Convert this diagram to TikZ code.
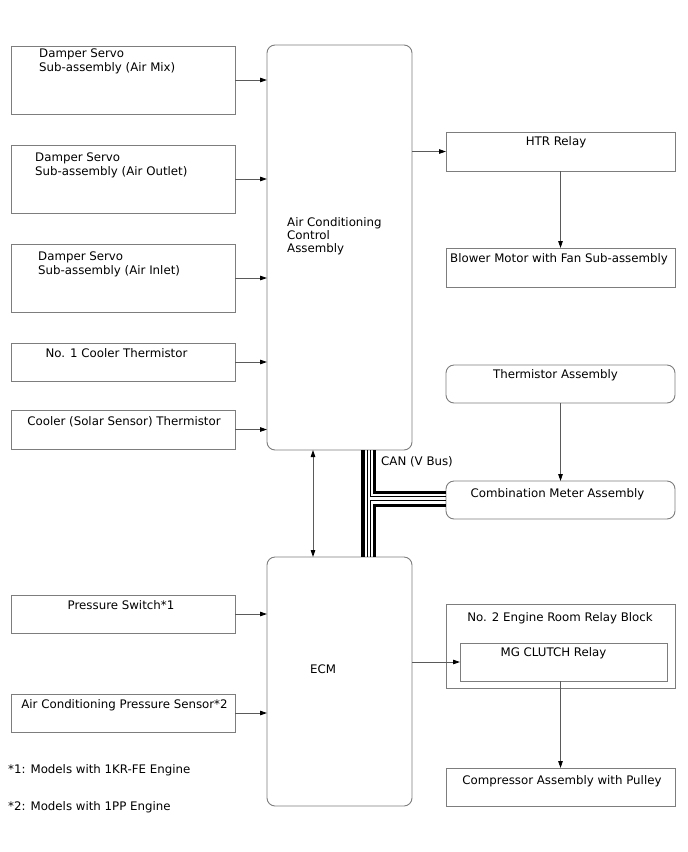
\documentclass[tikz,border=0pt]{standalone}
\usepackage{fontspec}
\setmainfont{DejaVu Sans}
\usetikzlibrary{arrows.meta}
\definecolor{boxgray}{RGB}{125,125,125}
\definecolor{linegray}{RGB}{90,90,90}
\begin{document}
\begin{tikzpicture}[x=1pt,y=-1pt,
  box/.style={draw=boxgray, line width=0.9pt, inner sep=0pt, outer sep=0pt, anchor=north west},
  rbox/.style={box, rounded corners=8pt},
  lbl/.style={inner sep=0pt, font=\fontsize{11.8}{14.3}\selectfont, anchor=base},
  lbll/.style={lbl, anchor=base west, align=left},
  conn/.style={draw=linegray, line width=0.8pt, -{Triangle[length=7pt,width=4.5pt,color=black]}},
  conn2/.style={draw=linegray, line width=0.8pt, {Triangle[length=7pt,width=4.5pt,color=black]}-{Triangle[length=7pt,width=4.5pt,color=black]}},
  busthick/.style={draw=black, line width=3.6pt},
  busthin/.style={draw=black, line width=0.9pt}
]
\useasboundingbox (0,0) rectangle (688,852);

% left column
\node[box, minimum width=224pt, minimum height=68pt] (dmix) at (11,46) {};
\node[box, minimum width=224pt, minimum height=68pt] (dout) at (11,145) {};
\node[box, minimum width=224pt, minimum height=68pt] (din) at (11,244) {};
\node[box, minimum width=224pt, minimum height=38pt] (cth) at (11,343) {};
\node[box, minimum width=224pt, minimum height=39pt] (sol) at (11,410) {};
\node[box, minimum width=224pt, minimum height=38pt] (psw) at (11,595) {};
\node[box, minimum width=224pt, minimum height=38pt] (aps) at (11,694) {};

% center
\node[rbox, minimum width=145pt, minimum height=405pt] (ac) at (267,45) {};
\node[rbox, minimum width=145pt, minimum height=249pt] (ecm) at (267,557) {};

% right column
\node[box, minimum width=229pt, minimum height=39pt] (htr) at (446,132) {};
\node[box, minimum width=229pt, minimum height=39pt] (blw) at (446,248) {};
\node[rbox, minimum width=229pt, minimum height=38pt] (tha) at (446,365) {};
\node[rbox, minimum width=229pt, minimum height=38pt] (cmb) at (446,481) {};
\node[box, minimum width=229pt, minimum height=84pt] (er) at (446,604) {};
\node[box, minimum width=207pt, minimum height=38pt] (mg) at (460,643) {};
\node[box, minimum width=229pt, minimum height=38pt] (cmp) at (446,768) {};

% texts (multi-line nodes: base = last line)
\node[lbll] (tdmix) at (39,71.5) {Damper Servo\\Sub-assembly (Air Mix)};
\node[lbll] (tdout) at (35,175.5) {Damper Servo\\Sub-assembly (Air Outlet)};
\node[lbll] (tdin) at (38,274.5) {Damper Servo\\Sub-assembly (Air Inlet)};
\node[lbl] (tcth) at (116.5,357.7) {No. 1 Cooler Thermistor};
\node[lbl] (tsol) at (124,425) {Cooler (Solar Sensor) Thermistor};
\node[lbl] (tpsw) at (121,609) {Pressure Switch*1};
\node[lbl] (taps) at (124.5,708) {Air Conditioning Pressure Sensor*2};
\node[lbll, font=\fontsize{11.8}{13.4}\selectfont] (tac) at (287,252.8) {Air Conditioning\\Control\\Assembly};
\node[lbl] (tecm) at (323,673) {ECM};
\node[lbl] (thtr) at (556,145) {HTR Relay};
\node[lbl] (tblw) at (559,262) {Blower Motor with Fan Sub-assembly};
\node[lbl] (ttha) at (555.5,378) {Thermistor Assembly};
\node[lbl] (tcmb) at (557.5,497) {Combination Meter Assembly};
\node[lbl] (ter) at (560,621) {No. 2 Engine Room Relay Block};
\node[lbl] (tmg) at (553.5,656) {MG CLUTCH Relay};
\node[lbl] (tcmp) at (562,784) {Compressor Assembly with Pulley};
\node[lbll] (tcan) at (381,465.5) {CAN (V Bus)};
\node[lbll] (fn1) at (8,773.5) {*1: Models with 1KR-FE Engine};
\node[lbll] (fn2) at (8,810.5) {*2: Models with 1PP Engine};

% connectors
\draw[conn] (dmix.east) -- (dmix.east -| ac.west);
\draw[conn] (dout.east) -- (dout.east -| ac.west);
\draw[conn] (din.east) -- (din.east -| ac.west);
\draw[conn] (cth.east) -- (cth.east -| ac.west);
\draw[conn] (sol.east) -- (sol.east -| ac.west);
\draw[conn] (psw.east) -- (psw.east -| ecm.west);
\draw[conn] (aps.east) -- (aps.east -| ecm.west);

\draw[conn] (htr.west -| ac.east) -- (htr.west);
\draw[conn] (htr.south) -- (blw.north);
\draw[conn] (tha.south) -- (cmb.north);
\draw[conn] (mg.west -| ecm.east) -- (mg.west);
\draw[conn] (cmp.north |- mg.south) -- (cmp.north);
\draw[conn2] (313,0 |- ac.south) -- (313,0 |- ecm.north);

% CAN bus
\draw[busthick] (362.75,0 |- ac.south) -- (362.75,0 |- ecm.north);
\draw[busthin] (367.6,0 |- ac.south) -- (367.6,0 |- ecm.north);
\draw[busthin] (370.8,0 |- ac.south) |- (cmb.west |- 0,496.2);
\draw[busthick] (374.4,0 |- ac.south) |- (cmb.west |- 0,492.4);
\draw[busthin] (370.8,0 |- ecm.north) |- (cmb.west |- 0,500.2);
\draw[busthick] (374.4,0 |- ecm.north) |- (cmb.west |- 0,505.4);
\end{tikzpicture}
\end{document}
